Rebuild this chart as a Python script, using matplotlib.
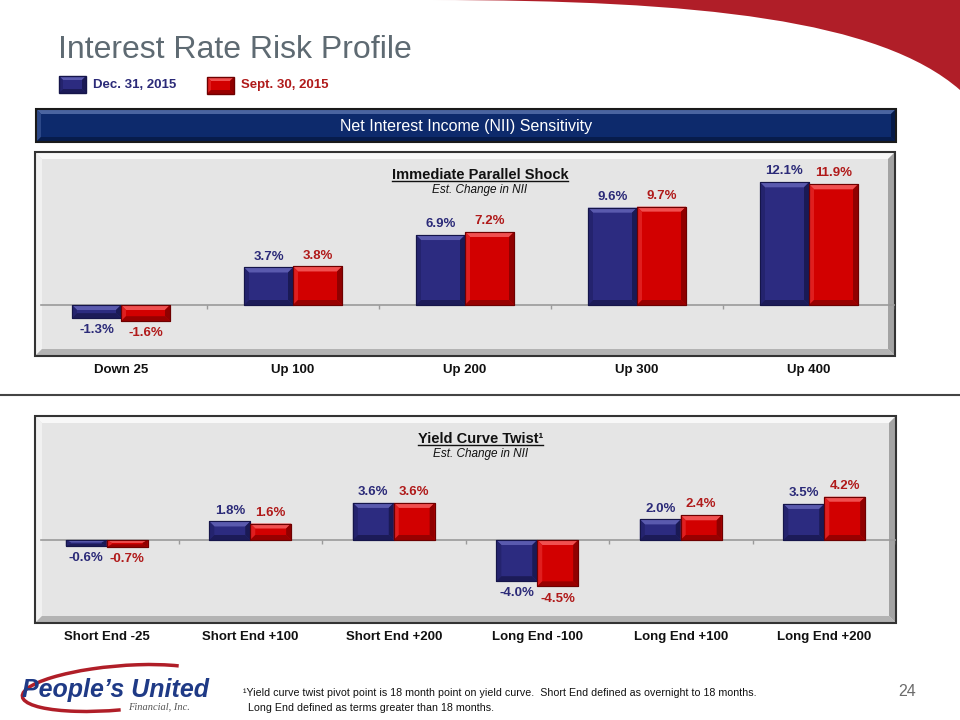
import matplotlib
matplotlib.use("Agg")
import matplotlib.pyplot as plt
from matplotlib.patches import Polygon, Rectangle, PathPatch, Arc
from matplotlib.path import Path

plt.rcParams['font.family'] = ['Liberation Sans', 'DejaVu Sans']

# -----------------------------
# Data
# -----------------------------
shock_labels = ["Down 25", "Up 100", "Up 200", "Up 300", "Up 400"]
shock_dec = [-1.3, 3.7, 6.9, 9.6, 12.1]
shock_sep = [-1.6, 3.8, 7.2, 9.7, 11.9]

twist_labels = ["Short End -25", "Short End +100", "Short End +200",
                "Long End -100", "Long End +100", "Long End +200"]
twist_dec = [-0.6, 1.8, 3.6, -4.0, 2.0, 3.5]
twist_sep = [-0.7, 1.6, 3.6, -4.5, 2.4, 4.2]

series_names = ["Dec. 31, 2015", "Sept. 30, 2015"]

# colours: face, bevels, outline, label
BLUE = dict(face="#2C2B80", top="#5A5AAE", left="#24236E", right="#1A1A55",
            bottom="#1C1B58", edge="#15154A", text="#2B2A78")
RED = dict(face="#D20000", top="#F05050", left="#E01E1E", right="#900000",
           bottom="#980000", edge="#6E0000", text="#B01A1A")

W, H = 960, 720


def bevel_box(ax, x0, y0, x1, y1, b, c, lw=1.0, zorder=1):
    # y0 = visual top, y1 = visual bottom (background axes has y pointing down)
    ax.add_patch(Rectangle((x0, y0), x1 - x0, y1 - y0, facecolor=c["face"],
                           edgecolor="none", zorder=zorder))
    top = [(x0, y0), (x1, y0), (x1 - b, y0 + b), (x0 + b, y0 + b)]
    left = [(x0, y0), (x0 + b, y0 + b), (x0 + b, y1 - b), (x0, y1)]
    right = [(x1, y0), (x1, y1), (x1 - b, y1 - b), (x1 - b, y0 + b)]
    bottom = [(x0, y1), (x1, y1), (x1 - b, y1 - b), (x0 + b, y1 - b)]
    for pts, key in [(top, "top"), (left, "left"), (right, "right"), (bottom, "bottom")]:
        ax.add_patch(Polygon(pts, closed=True, facecolor=c[key], edgecolor="none",
                             zorder=zorder))
    ax.add_patch(Rectangle((x0, y0), x1 - x0, y1 - y0, facecolor="none",
                           edgecolor=c["edge"], lw=lw, zorder=zorder + 0.1))


def bevel_bars(ax, xs, vals, width, c, px_x, px_y, b=5):
    bars = ax.bar(xs, vals, width, color=c["face"], edgecolor=c["edge"],
                  linewidth=0.8, zorder=3)
    for r in bars:
        x0 = r.get_x()
        x1 = x0 + r.get_width()
        lo = min(r.get_y(), r.get_y() + r.get_height())
        hi = max(r.get_y(), r.get_y() + r.get_height())
        bx = b / px_x
        by = min(b / px_y, (hi - lo) / 2.5)
        top = [(x0, hi), (x1, hi), (x1 - bx, hi - by), (x0 + bx, hi - by)]
        left = [(x0, hi), (x0 + bx, hi - by), (x0 + bx, lo + by), (x0, lo)]
        right = [(x1, hi), (x1, lo), (x1 - bx, lo + by), (x1 - bx, hi - by)]
        bottom = [(x0, lo), (x1, lo), (x1 - bx, lo + by), (x0 + bx, lo + by)]
        for pts, key in [(top, "top"), (left, "left"), (right, "right"), (bottom, "bottom")]:
            ax.add_patch(Polygon(pts, closed=True, facecolor=c[key],
                                 edgecolor="none", zorder=3.5))
        ax.add_patch(Rectangle((x0, lo), x1 - x0, hi - lo, facecolor="none",
                               edgecolor=c["edge"], lw=0.8, zorder=3.6))
    for r, v in zip(bars, vals):
        xc = r.get_x() + r.get_width() / 2
        off = 3.5 if v >= 0 else -4.5
        ax.annotate(f"{v:.1f}%", (xc, v), xytext=(0, off), textcoords="offset points",
                    ha="center", va="bottom" if v >= 0 else "top",
                    fontsize=9.5, fontweight="bold", color=c["text"], zorder=5)


def chart(fig, bg, box, zero_y, px_per_pct, labels, dec, sep, title, subtitle):
    x0, y0, x1, y1 = box
    n = len(labels)
    ax = fig.add_axes([x0 / W, 1 - y1 / H, (x1 - x0) / W, (y1 - y0) / H])
    ax.patch.set_visible(False)
    ax.set_xlim(-0.5, n - 0.5)
    ax.set_ylim(-(y1 - zero_y) / px_per_pct, (zero_y - y0) / px_per_pct)
    for s in ax.spines.values():
        s.set_visible(False)
    ax.set_yticks([])
    ax.set_xticks(range(n))
    ax.set_xticklabels(labels, fontsize=9.5, fontweight="bold", color="#111111")
    ax.tick_params(axis="x", length=0, pad=6)

    px_x = (x1 - x0) / n
    w = 0.285
    ax.axhline(0, xmin=6 / (x1 - x0), xmax=1, color="#9A9A9A", lw=1.2, zorder=2)
    ax.vlines([i + 0.5 for i in range(n)], -4 / px_per_pct, 0, color="#9A9A9A",
              lw=1.0, zorder=2)

    xs = list(range(n))
    bevel_bars(ax, [x - w / 2 for x in xs], dec, w, BLUE, px_x, px_per_pct)
    bevel_bars(ax, [x + w / 2 for x in xs], sep, w, RED, px_x, px_per_pct)

    xm = (x0 + x1) / 2 + 15
    t = bg.text(xm, y0 + 23, title, ha="center", va="center", fontsize=10.5,
                fontweight="bold", color="#111111", zorder=6)
    bg.text(xm, y0 + 38, subtitle, ha="center", va="center", fontsize=8.5,
            style="italic", color="#111111", zorder=6)
    return ax, t


fig = plt.figure(figsize=(9.6, 7.2), dpi=100)
bg = fig.add_axes([0, 0, 1, 1])
bg.set_xlim(0, W)
bg.set_ylim(H, 0)
bg.axis("off")

# top-right swoosh
verts = [(430, 0), (700, 0), (880, 20), (960, 90), (960, 0), (430, 0)]
codes = [Path.MOVETO, Path.CURVE4, Path.CURVE4, Path.CURVE4, Path.LINETO, Path.CLOSEPOLY]
bg.add_patch(PathPatch(Path(verts, codes), facecolor="#B01E28", edgecolor="none", zorder=0))

# title and legend
bg.text(58, 50, "Interest Rate Risk Profile", fontsize=23, color="#5E6A72",
        ha="left", va="center")
bevel_box(bg, 59, 76, 86, 93, 4, BLUE)
bevel_box(bg, 207, 77, 234, 94, 4, RED)
bg.text(93, 85, series_names[0], fontsize=9.5, fontweight="bold", color=BLUE["text"],
        va="center")
bg.text(241, 85, series_names[1], fontsize=9.5, fontweight="bold", color=RED["text"],
        va="center")

# banner
BANNER = dict(face="#0D2A6C", top="#4A64A0", left="#2C4888", right="#061A48",
              bottom="#071C4C", edge="#1A1A1A")
bevel_box(bg, 36, 109, 896, 142, 5, BANNER, lw=1.5)
bg.text(466, 126, "Net Interest Income (NII) Sensitivity", fontsize=11.5,
        color="white", ha="center", va="center", zorder=3)

# panels
PANEL = dict(face="#E5E5E5", top="#F8F8F8", left="#F1F1F1", right="#A3A3A3",
             bottom="#B3B3B3", edge="#333333")
top_box = (35, 152, 895, 356)
bot_box = (35, 416, 896, 623)
bevel_box(bg, *top_box, 7, PANEL, lw=1.5)
bevel_box(bg, *bot_box, 7, PANEL, lw=1.5)

# separator
bg.plot([0, W], [395, 395], color="#444444", lw=1.5)

ax1, t1 = chart(fig, bg, top_box, 305, 10.14, shock_labels, shock_dec, shock_sep,
                "Immediate Parallel Shock", "Est. Change in NII")
ax2, t2 = chart(fig, bg, bot_box, 540, 10.3, twist_labels, twist_dec, twist_sep,
                "Yield Curve Twist\u00b9", "Est. Change in NII")

# logo
bg.add_patch(Arc((118, 688), 192, 44, angle=-5, theta1=88, theta2=345,
                 color="#B01E28", lw=2.5, zorder=1))
bg.text(22, 697, "People\u2019s United", fontsize=18, fontweight="bold", style="italic",
        color="#1F3A86", va="baseline", zorder=2)
bg.text(128, 707, "Financial, Inc.", fontsize=7.5, style="italic", family="Liberation Serif",
        color="#555555", va="center", zorder=2)

# footnote and page number
bg.text(243, 693, "\u00b9Yield curve twist pivot point is 18 month point on yield curve.  "
        "Short End defined as overnight to 18 months.", fontsize=7.7, color="#111111",
        va="center")
bg.text(248, 708, "Long End defined as terms greater than 18 months.", fontsize=7.7,
        color="#111111", va="center")
bg.text(898, 692, "24", fontsize=11.5, color="#6B6B6B", va="center")

# underline chart titles
fig.canvas.draw()
inv = bg.transData.inverted()
for t in (t1, t2):
    bb = t.get_window_extent()
    (xa, ya), (xb, yb) = inv.transform([(bb.x0, bb.y0), (bb.x1, bb.y1)])
    bg.plot([xa, xb], [ya - 1, ya - 1], color="#111111", lw=1.0, zorder=6)

fig.savefig("out.png", dpi=100)
